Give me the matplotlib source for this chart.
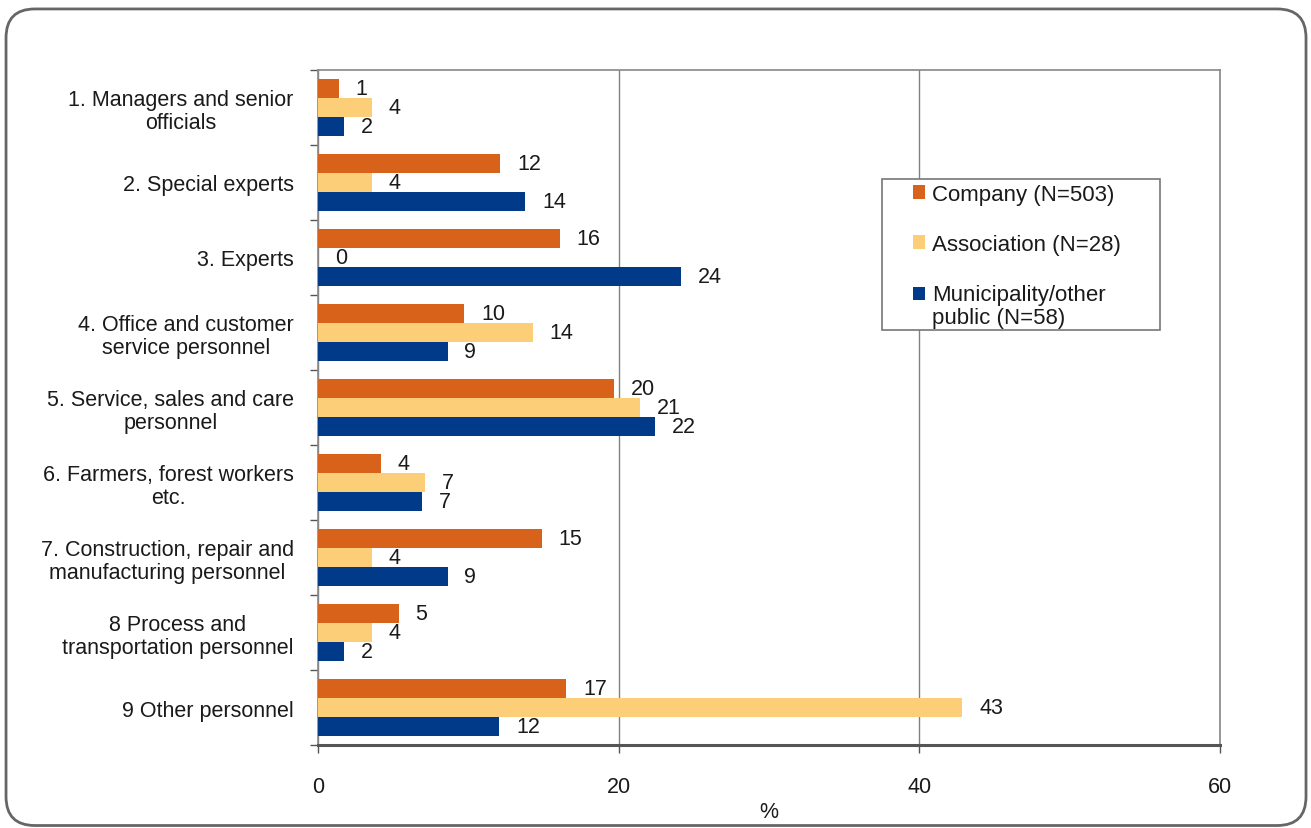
import numpy as np
import matplotlib
matplotlib.use("Agg")
import matplotlib.pyplot as plt
from matplotlib.patches import FancyBboxPatch, Rectangle
from matplotlib.legend_handler import HandlerPatch

plt.rcParams["font.family"] = ["Liberation Sans", "DejaVu Sans"]

categories = [
    "1. Managers and senior\nofficials",
    "2. Special experts",
    "3. Experts",
    "4. Office and customer\nservice personnel",
    "5. Service, sales and care\npersonnel",
    "6. Farmers, forest workers\netc.",
    "7. Construction, repair and\nmanufacturing personnel",
    "8 Process and\ntransportation personnel",
    "9 Other personnel",
]

# shares in % per employer type
company = [1.39, 12.13, 16.10, 9.74, 19.68, 4.17, 14.91, 5.37, 16.51]
association = [3.57, 3.57, 0.0, 14.29, 21.43, 7.14, 3.57, 3.57, 42.86]
municipality = [1.72, 13.79, 24.14, 8.62, 22.41, 6.90, 8.62, 1.72, 12.07]

series_names = ["Company (N=503)", "Association (N=28)",
                "Municipality/other\npublic (N=58)"]
colors = ["#D9621A", "#FDCE78", "#013A88"]

FS = 15.5

fig = plt.figure(figsize=(13.11, 8.29), dpi=100)
ax = fig.add_axes([0.2426, 0.1001, 0.6880, 0.8143])

# rounded frame around the whole chart
frame = FancyBboxPatch((0.0046, 0.003), 0.9916, 0.985,
                       boxstyle="round,pad=0,rounding_size=0.022",
                       transform=fig.transFigure, fill=False,
                       edgecolor="#666666", linewidth=2,
                       mutation_aspect=1311 / 829)
fig.patches.append(frame)

y = np.arange(len(categories))
h = 0.253
handles = []
for i, (vals, name, col) in enumerate(zip([company, association, municipality],
                                           series_names, colors)):
    bars = ax.barh(y + (i - 1) * h, vals, height=h, color=col, label=name,
                   zorder=3)
    handles.append(bars.patches[0])
    for b, v in zip(bars, vals):
        ax.annotate(f"{v:.0f}", (b.get_width(), b.get_y() + b.get_height() / 2),
                    xytext=(12, 0), textcoords="offset points",
                    ha="left", va="center", fontsize=FS, color="#1a1a1a",
                    zorder=4)

ax.set_xlim(0, 60)
ax.set_ylim(len(categories) - 0.5, -0.5)
ax.set_xticks([0, 20, 40, 60])
ax.tick_params(axis="x", direction="out", length=6, width=1, color="#555555",
               labelsize=FS, labelcolor="#1a1a1a", pad=16)
ax.set_yticks(y)
ax.set_yticklabels(categories, fontsize=FS, color="#1a1a1a",
                   multialignment="center", linespacing=1.12)
ax.set_yticks(np.arange(-0.5, len(categories) + 0.5, 1), minor=True)
ax.tick_params(axis="y", which="major", length=0, pad=17.5)
ax.tick_params(axis="y", which="minor", direction="out", length=6, width=1,
               color="#555555")
ax.set_xlabel("%", fontsize=FS, color="#1a1a1a", labelpad=3)

ax.grid(axis="x", color="#808080", linewidth=1, zorder=1)
for side in ["top", "right", "left"]:
    ax.spines[side].set_color("#888888")
    ax.spines[side].set_linewidth(1.2)
ax.spines["bottom"].set_color("#555555")
ax.spines["bottom"].set_linewidth(2.2)


# square marker sitting level with the first line of a two-line label
def top_square(legend, orig_handle, xdescent, ydescent, width, height, fontsize):
    return Rectangle((-xdescent, -ydescent + 9), width, height)


legend_box = Rectangle((0.6253, 0.6148), 0.3082, 0.2237, transform=ax.transAxes,
                       facecolor="white", edgecolor="#777777", linewidth=1.2,
                       zorder=4.5)
ax.add_patch(legend_box)

leg = ax.legend(handles, series_names, loc="upper left",
                bbox_to_anchor=(0.6596, 0.8312),
                fontsize=16, frameon=False, borderpad=0, borderaxespad=0,
                labelspacing=1.3, handlelength=0.55, handleheight=0.55,
                handletextpad=0.3,
                handler_map={handles[2]: HandlerPatch(patch_func=top_square)})
leg.set_zorder(5)
for t in leg.get_texts():
    t.set_color("#1a1a1a")
    t.set_linespacing(1.15)

fig.savefig("out.png", dpi=100)
